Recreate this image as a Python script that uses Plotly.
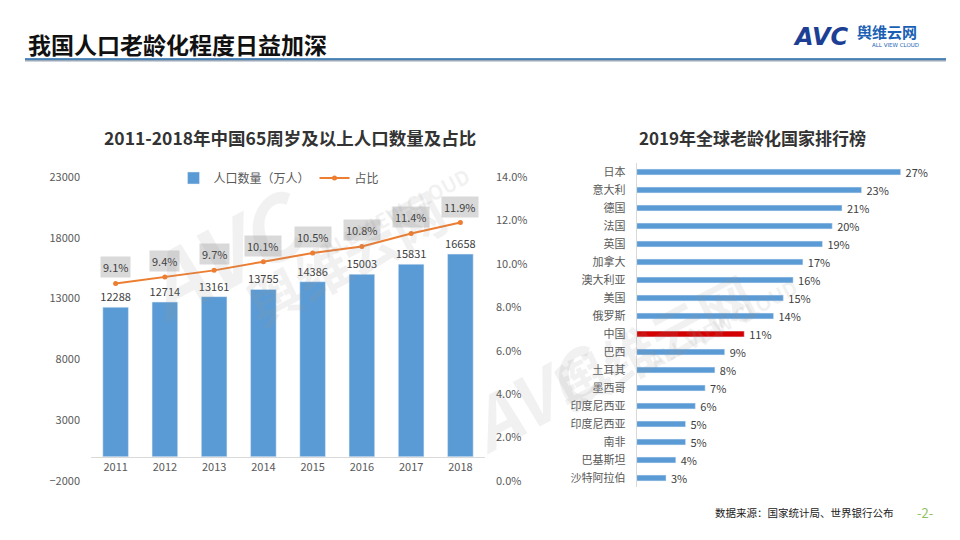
import plotly.graph_objects as go

# ---------------- data ----------------
years = ["2011", "2012", "2013", "2014", "2015", "2016", "2017", "2018"]
population = [12288, 12714, 13161, 13755, 14386, 15003, 15831, 16658]   # 万人
share = [0.091, 0.094, 0.097, 0.101, 0.105, 0.108, 0.114, 0.119]

countries = ["日本", "意大利", "德国", "法国", "英国", "加拿大", "澳大利亚", "美国", "俄罗斯",
             "中国", "巴西", "土耳其", "墨西哥", "印度尼西亚", "印度尼西亚", "南非", "巴基斯坦", "沙特阿拉伯"]
aging = [27, 23, 21, 20, 19, 17, 16, 15, 14, 11, 9, 8, 7, 6, 5, 5, 4, 3]

FONT = "Noto Sans CJK SC"
BLUE = "#5b9bd5"
ORANGE = "#ed7d31"
RED = "#d40000"
GRAY = "#595959"

fig = go.Figure()

# ---------------- left chart ----------------
fig.add_trace(go.Bar(
    x=years, y=population, name="人口数量（万人）",
    marker_color=BLUE, width=0.52,
    text=[str(v) for v in population], textposition="outside", constraintext="none",
    textfont=dict(size=11, color="#404040"), cliponaxis=False,
    xaxis="x", yaxis="y",
))
fig.add_trace(go.Scatter(
    x=years, y=share, name="占比", mode="lines+markers",
    line=dict(color=ORANGE, width=2), marker=dict(size=5, color=ORANGE),
    xaxis="x", yaxis="y2",
))

annotations = []
for i, s in enumerate(share):
    annotations.append(dict(
        x=i, y=s, xref="x", yref="y2", text=f"{s*100:.1f}%", showarrow=False,
        yshift=16, bgcolor="#d9d9d9", font=dict(size=11, color="#404040", family=FONT),
        borderpad=2,
    ))

# ---------------- right chart ----------------
n = len(countries)
ypos = list(range(n - 1, -1, -1))
colors = [RED if c == "中国" else BLUE for c in countries]
fig.add_trace(go.Bar(
    x=aging, y=ypos, orientation="h", marker_color=colors, width=0.32,
    text=[f"\u00a0\u00a0{v}%" for v in aging], textposition="outside", constraintext="none",
    textfont=dict(size=11, color="#404040"), cliponaxis=False,
    showlegend=False, xaxis="x3", yaxis="y3",
))

# ---------------- titles / header ----------------
annotations += [
    dict(x=26/960, y=1-44/540, xref="paper", yref="paper", xanchor="left", yanchor="middle",
         text="<b>我国人口老龄化程度日益加深</b>", showarrow=False,
         font=dict(size=23, color="#111111", family=FONT)),
    dict(x=289.5/960, y=1-137/540, xref="paper", yref="paper", xanchor="center", yanchor="middle",
         text="<b>2011-2018年中国65周岁及以上人口数量及占比</b>", showarrow=False,
         font=dict(size=17.5, color="#333333", family=FONT)),
    dict(x=752.5/960, y=1-137/540, xref="paper", yref="paper", xanchor="center", yanchor="middle",
         text="<b>2019年全球老龄化国家排行榜</b>", showarrow=False,
         font=dict(size=17, color="#333333", family=FONT)),
    # logo
    dict(x=791/960, y=1-37/540, xref="paper", yref="paper", xanchor="left", yanchor="middle",
         text="<b><i>AVC</i></b>", showarrow=False,
         font=dict(size=24, color="#1c3f94", family="DejaVu Sans")),
    dict(x=855/960, y=1-32/540, xref="paper", yref="paper", xanchor="left", yanchor="middle",
         text="<b>舆维云网</b>", showarrow=False,
         font=dict(size=15, color="#1a5fb4", family=FONT)),
    dict(x=870/960, y=1-45/540, xref="paper", yref="paper", xanchor="left", yanchor="middle",
         text="ALL VIEW CLOUD", showarrow=False,
         font=dict(size=5.5, color="#1a5fb4", family="DejaVu Sans")),
    # footer
    dict(x=713/960, y=1-512/540, xref="paper", yref="paper", xanchor="left", yanchor="middle",
         text="数据来源：国家统计局、世界银行公布", showarrow=False,
         font=dict(size=10.5, color="#222222", family=FONT)),
    dict(x=925/960, y=1-512/540, xref="paper", yref="paper", xanchor="center", yanchor="middle",
         text="-2-", showarrow=False,
         font=dict(size=13, color="#8fbf5f", family=FONT)),
]

# watermarks
wm = "rgba(150,150,150,0.13)"
for (x, y, t, sz) in [
    (115/960, 1-250/540, "<b><i>AVC</i></b>", 85),
    (345/960, 1-168/540, "<b>舆维云网</b>", 54),
    (395/960, 1-212/540, "<b>ALL VIEW CLOUD</b>", 20),
    (535/960, 1-475/540, "<b><i>AVC</i></b>", 70),
    (770/960, 1-340/540, "<b>舆维云网</b>", 54),
    (805/960, 1-378/540, "<b>ALL VIEW CLOUD</b>", 20),
]:
    annotations.append(dict(x=x, y=y, xref="paper", yref="paper", text=t, showarrow=False,
                            textangle=-28, font=dict(size=sz, color=wm, family=FONT)))

shapes = [
    dict(type="line", xref="paper", yref="paper", x0=25/960, x1=946/960,
         y0=1-60/540, y1=1-60/540, line=dict(color="#9aa8b8", width=3)),
    dict(type="line", xref="paper", yref="paper", x0=25/960, x1=946/960,
         y0=1-59/540, y1=1-59/540, line=dict(color="#2f75b5", width=1.5)),
]

axis_font = dict(size=11, color=GRAY, family=FONT)
fig.update_layout(
    width=960, height=540, margin=dict(l=0, r=0, t=0, b=0, autoexpand=False),
    paper_bgcolor="white", plot_bgcolor="rgba(0,0,0,0)",
    font=dict(family=FONT, color=GRAY),
    showlegend=True,
    legend=dict(orientation="h", x=279/960, y=1-178/540, xanchor="center", yanchor="middle",
                font=dict(size=12, color=GRAY, family=FONT), bgcolor="rgba(0,0,0,0)",
                itemwidth=30, tracegroupgap=0),
    xaxis=dict(type="category", range=[-0.5, len(years) - 0.5],
               domain=[91/960, 485/960], anchor="free", position=1-456.7/540,
               showline=True, linecolor="#d9d9d9", linewidth=1, ticks="",
               tickfont=axis_font, showgrid=False, automargin=False),
    yaxis=dict(domain=[1-481/540, 1-177/540], range=[-2000, 23000], tick0=-2000, dtick=5000,
               showgrid=False, zeroline=False, tickfont=axis_font, ticklabelstandoff=10,
               tickformat="d", automargin=False),
    yaxis2=dict(overlaying="y", side="right", anchor="x", range=[0, 0.14], dtick=0.02,
                tickformat=".1%", showgrid=False, zeroline=False, tickfont=axis_font,
                ticklabelstandoff=10, automargin=False),
    xaxis3=dict(domain=[636.7/960, 930/960], range=[0, 30], visible=False, anchor="y3",
                automargin=False),
    yaxis3=dict(domain=[1-487/540, 1-163/540], range=[-0.5, n - 0.5], anchor="x3",
                tickvals=ypos, ticktext=countries, showline=True, linecolor="#d9d9d9",
                ticks="", showgrid=False, zeroline=False, tickfont=axis_font,
                ticklabelstandoff=8, automargin=False),
    annotations=annotations,
    shapes=shapes,
)

fig.write_html("out.html", config={"displayModeBar": False},
               post_script="document.body.style.margin='0';")
